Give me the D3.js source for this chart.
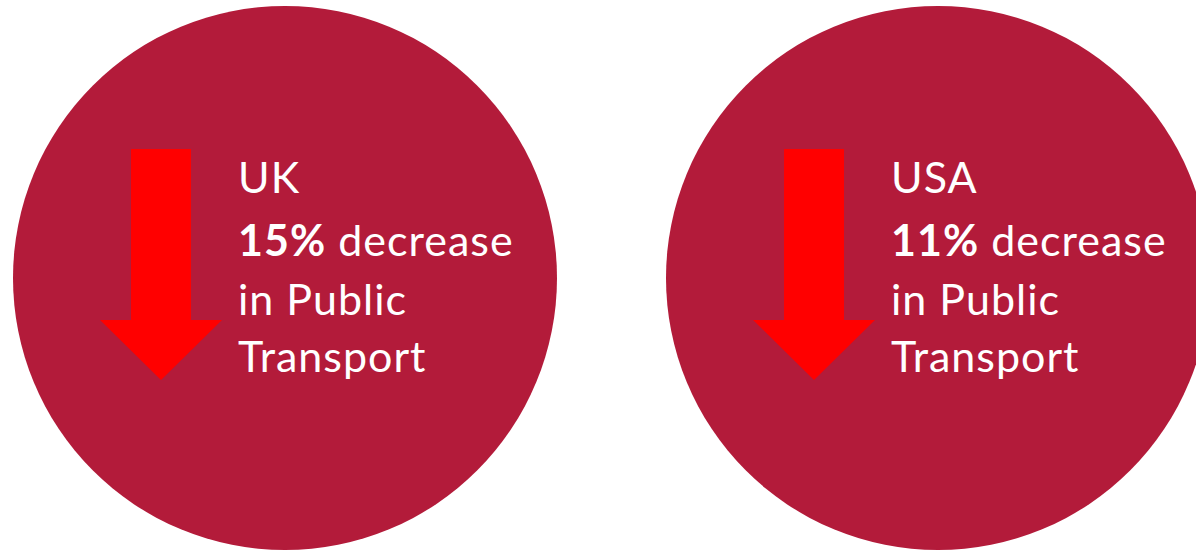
<!DOCTYPE html>
<html><head><meta charset="utf-8">
<script src="https://cdn.jsdelivr.net/npm/d3@7"></script>
<style>html,body{margin:0;padding:0;background:#fff;overflow:hidden}</style>
</head><body>
<svg id="c" width="1196" height="551"></svg>
<script>
const countries = ["UK", "USA"];
const decreases = [15, 11];
const lineRest = ["decrease", "in Public", "Transport"];

const svg = d3.select("#c");
const x = d3.scalePoint().domain(countries).range([285, 938]);
const R = 272, cy = 278;

const g = svg.selectAll("g.item").data(countries.map((c, i) => ({c, v: decreases[i]})))
  .join("g").attr("class", "item")
  .attr("transform", d => `translate(${x(d.c)},${cy})`);

g.append("circle").attr("r", R).attr("fill", "#B31B3A");

g.append("path").attr("fill", "#FF0000")
  .attr("d", d3.line()([[-154,-129],[-94,-129],[-94,42],[-63,42],[-124,102],[-185,42],[-154,42]]) + "Z");

const fontFam = "Lato, 'Open Sans', sans-serif";
const fs = 43;
const tx = -47;
const baselines = [-85, -22, 37, 94];

function txt(y) {
  return g.append("text").attr("x", tx).attr("y", y).attr("fill", "#fff")
    .attr("font-family", fontFam).attr("font-size", fs).attr("letter-spacing", 1);
}
txt(baselines[0]).text(d => d.c);
const t2 = txt(baselines[1]);
t2.append("tspan").attr("font-weight", "bold").text(d => d.v + "%");
t2.append("tspan").text(" " + lineRest[0]);
txt(baselines[2]).text(lineRest[1]);
txt(baselines[3]).text(lineRest[2]);
</script>
</body></html>
